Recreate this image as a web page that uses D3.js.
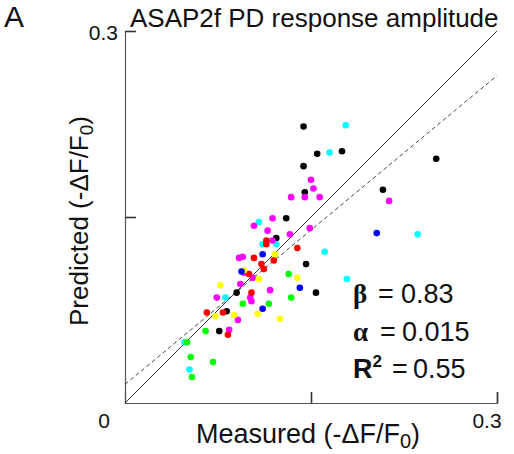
<!DOCTYPE html>
<html>
<head>
<meta charset="utf-8">
<script src="https://cdn.jsdelivr.net/npm/d3@7"></script>
<style>
  body { margin: 0; background: #fff; }
  text { font-family: "Helvetica Neue", "Liberation Sans", Arial, sans-serif; fill: #111; }
</style>
</head>
<body>
<svg id="chart" width="514" height="454"></svg>
<script>
// recording colours, one per cell
var colorNames = ['black', 'cyan', 'magenta', 'red', 'yellow', 'blue', 'green'];
var colorValues = ['#000000', '#00ffff', '#ff00ff', '#ff0000', '#ffff00', '#0000ff', '#00ff00'];

// measured vs predicted (-dF/F0), grouped by colour
var blackPts = [
  [0.144, 0.223], [0.155, 0.201], [0.175, 0.203], [0.144, 0.191], [0.251, 0.197],
  [0.145, 0.170], [0.208, 0.172], [0.130, 0.149], [0.122, 0.133], [0.146, 0.112],
  [0.154, 0.089], [0.090, 0.089], [0.082, 0.074], [0.076, 0.058]
];
var cyanPts = [
  [0.178, 0.224], [0.165, 0.202], [0.108, 0.146], [0.111, 0.128], [0.122, 0.128],
  [0.236, 0.136], [0.161, 0.122], [0.179, 0.100], [0.081, 0.085], [0.048, 0.049],
  [0.052, 0.027]
];
var magentaPts = [
  [0.150, 0.180], [0.152, 0.173], [0.134, 0.166], [0.145, 0.166], [0.157, 0.166],
  [0.213, 0.163], [0.104, 0.143], [0.119, 0.149], [0.115, 0.139], [0.149, 0.141],
  [0.133, 0.136], [0.119, 0.131], [0.092, 0.117], [0.095, 0.118], [0.096, 0.105],
  [0.103, 0.101], [0.093, 0.096], [0.117, 0.091], [0.074, 0.085], [0.101, 0.085],
  [0.102, 0.082], [0.091, 0.067], [0.084, 0.059]
];
var redPts = [
  [0.114, 0.131], [0.114, 0.128], [0.139, 0.125], [0.120, 0.115], [0.104, 0.117],
  [0.110, 0.112], [0.112, 0.108], [0.100, 0.104], [0.102, 0.089], [0.066, 0.073],
  [0.079, 0.073], [0.083, 0.055]
];
var yellowPts = [
  [0.121, 0.120], [0.096, 0.107], [0.108, 0.100], [0.139, 0.101], [0.077, 0.095],
  [0.088, 0.071], [0.073, 0.070], [0.107, 0.072], [0.125, 0.068]
];
var bluePts = [
  [0.203, 0.137], [0.111, 0.120], [0.094, 0.106], [0.141, 0.093], [0.111, 0.076]
];
var greenPts = [
  [0.132, 0.104], [0.134, 0.085], [0.095, 0.080], [0.116, 0.080], [0.065, 0.058],
  [0.050, 0.049], [0.053, 0.037], [0.071, 0.033], [0.054, 0.021]
];

// fit results
var beta = 0.83;
var alpha = 0.015;
var rSquared = 0.55;

var axisMax = 0.3;
var tickValues = [0.15, 0.3];

var svg = d3.select('#chart');

var x = d3.scaleLinear().domain([0, axisMax]).range([125, 497]);
var y = d3.scaleLinear().domain([0, axisMax]).range([403, 31]);

// axes, ticks pointing inward
var xAxis = d3.axisTop(x).tickValues(tickValues).tickSize(11).tickFormat('');
var yAxis = d3.axisRight(y).tickValues(tickValues).tickSize(11).tickFormat('');

var gx = svg.append('g').attr('transform', 'translate(0,' + y(0) + ')').call(xAxis);
var gy = svg.append('g').attr('transform', 'translate(' + x(0) + ',0)').call(yAxis);

[gx, gy].forEach(function (g) {
  g.select('.domain').attr('stroke', '#555').attr('stroke-width', 1.2);
  g.selectAll('.tick line').attr('stroke', '#333').attr('stroke-width', 1.6);
});

// unity line and regression fit
svg.append('line')
  .attr('x1', x(0)).attr('y1', y(0))
  .attr('x2', x(axisMax)).attr('y2', y(axisMax))
  .attr('stroke', '#222').attr('stroke-width', 0.9);

svg.append('line')
  .attr('x1', x(0)).attr('y1', y(alpha))
  .attr('x2', x(axisMax)).attr('y2', y(alpha + beta * axisMax))
  .attr('stroke', '#333').attr('stroke-width', 0.9)
  .attr('stroke-dasharray', '4,3');

// points
var groups = [blackPts, cyanPts, magentaPts, redPts, yellowPts, bluePts, greenPts];
var dots = svg.append('g').attr('id', 'dots');
groups.forEach(function (pts, i) {
  dots.selectAll('circle.c' + i)
    .data(pts)
    .enter()
    .append('circle')
    .attr('class', 'c' + i)
    .attr('cx', function (d) { return x(d[0]); })
    .attr('cy', function (d) { return y(d[1]); })
    .attr('r', 3.3)
    .attr('fill', colorValues[i]);
});

// tick labels
svg.append('text').attr('x', 118).attr('y', 40).attr('text-anchor', 'end')
  .style('font-size', '21px').text(d3.format('.1f')(axisMax));
svg.append('text').attr('x', 104).attr('y', 428).attr('text-anchor', 'middle')
  .style('font-size', '21px').text('0');
svg.append('text').attr('x', 487).attr('y', 428).attr('text-anchor', 'middle')
  .style('font-size', '21px').text(d3.format('.1f')(axisMax));

// titles
svg.append('text').attr('x', 4).attr('y', 27)
  .style('font-size', '30px').text('A');
svg.append('text').attr('x', 130).attr('y', 27)
  .style('font-size', '26px').text('ASAP2f PD response amplitude');

var xLabel = svg.append('text').attr('x', 308).attr('y', 443)
  .attr('text-anchor', 'middle').style('font-size', '27px');
xLabel.append('tspan').text('Measured (-ΔF/F');
xLabel.append('tspan').attr('dy', 5).style('font-size', '20px').text('0');
xLabel.append('tspan').attr('dy', -5).text(')');

var yLabel = svg.append('text')
  .attr('transform', 'translate(88,221) rotate(-90)')
  .attr('text-anchor', 'middle').style('font-size', '26px');
yLabel.append('tspan').text('Predicted (-ΔF/F');
yLabel.append('tspan').attr('dy', 5).style('font-size', '19px').text('0');
yLabel.append('tspan').attr('dy', -5).text(')');

// fit statistics
var stats = [
  { sym: 'β', serif: true, sup: null, val: beta, eqX: 378, valX: 401 },
  { sym: 'α', serif: true, sup: null, val: alpha, eqX: 380, valX: 402 },
  { sym: 'R', serif: false, sup: '2', val: rSquared, eqX: 392, valX: 413 }
];
stats.forEach(function (s, i) {
  var by = 303 + i * 37.5;
  var t = svg.append('text').attr('x', 353).attr('y', by)
    .style('font-size', '27px');
  t.append('tspan')
    .style('font-weight', 'bold')
    .style('font-family', s.serif ? '"Liberation Serif", "Times New Roman", serif' : null)
    .text(s.sym);
  if (s.sup) {
    t.append('tspan').attr('dy', -11).style('font-weight', 'bold')
      .style('font-size', '17px').text(s.sup);
    t.append('tspan').attr('dy', 11).attr('x', s.eqX).text('=');
  } else {
    t.append('tspan').attr('x', s.eqX).text('=');
  }
  t.append('tspan').attr('x', s.valX).text(s.val);
});
</script>
</body>
</html>
